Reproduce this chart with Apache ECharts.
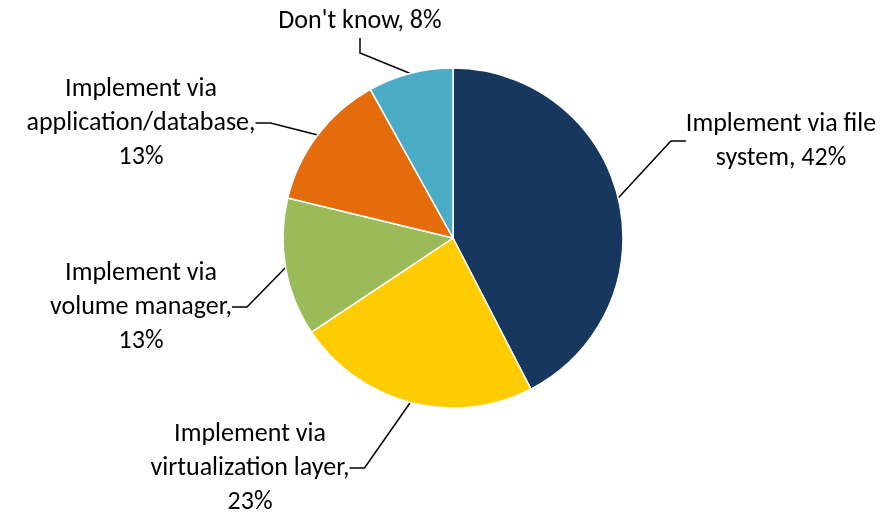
<!DOCTYPE html>
<html>
<head>
<meta charset="utf-8">
<script src="https://cdn.jsdelivr.net/npm/echarts@6/dist/echarts.min.js"></script>
<style>
  html, body { margin: 0; padding: 0; background: #fff; }
  #Map { width: 889px; height: 512px; }
</style>
</head>
<body>
<div id="Map"></div>
<script>
// data
var names = [
  'Implement via file\nsystem',
  'Implement via\nvirtualization layer,\n',
  'Implement via\nvolume manager,\n',
  'Implement via\napplication/database,\n',
  "Don't know"
];
var values = [42, 23, 13, 13, 8];
var colors = ['#17375e', '#ffcc00', '#9bbb59', '#e46c0a', '#4bacc6'];

// where each label block sits (centre of the text)
var labelPos = [[781, 141], [250, 468], [141, 307], [141, 123], [360, 21]];

var pieData = [];
for (var i = 0; i < values.length; i++) {
  pieData.push({ name: names[i], value: values[i], itemStyle: { color: colors[i] } });
}

var myChart = echarts.init(document.getElementById('Map'));
var option = {
  animation: false,
  series: [
    {
      type: 'pie',
      center: [453, 238],
      radius: 170,
      startAngle: 90,
      clockwise: true,
      data: pieData,
      itemStyle: { borderColor: '#fff', borderWidth: 1.5 },
      label: {
        show: true,
        fontFamily: 'Carlito, "Noto Sans", sans-serif',
        fontSize: 26,
        lineHeight: 34,
        color: '#000',
        align: 'center',
        formatter: function (p) {
          var sep = p.name.charAt(p.name.length - 1) === '\n' ? '' : ', ';
          return p.name + sep + p.value + '%';
        }
      },
      labelLine: {
        show: true,
        length: 20,
        length2: 15,
        lineStyle: { color: '#000', width: 1.5 }
      },
      labelLayout: function (params) {
        var pos = labelPos[params.dataIndex];
        return { x: pos[0], y: pos[1], align: 'center', verticalAlign: 'middle' };
      }
    }
  ]
};
myChart.setOption(option);
</script>
</body>
</html>
